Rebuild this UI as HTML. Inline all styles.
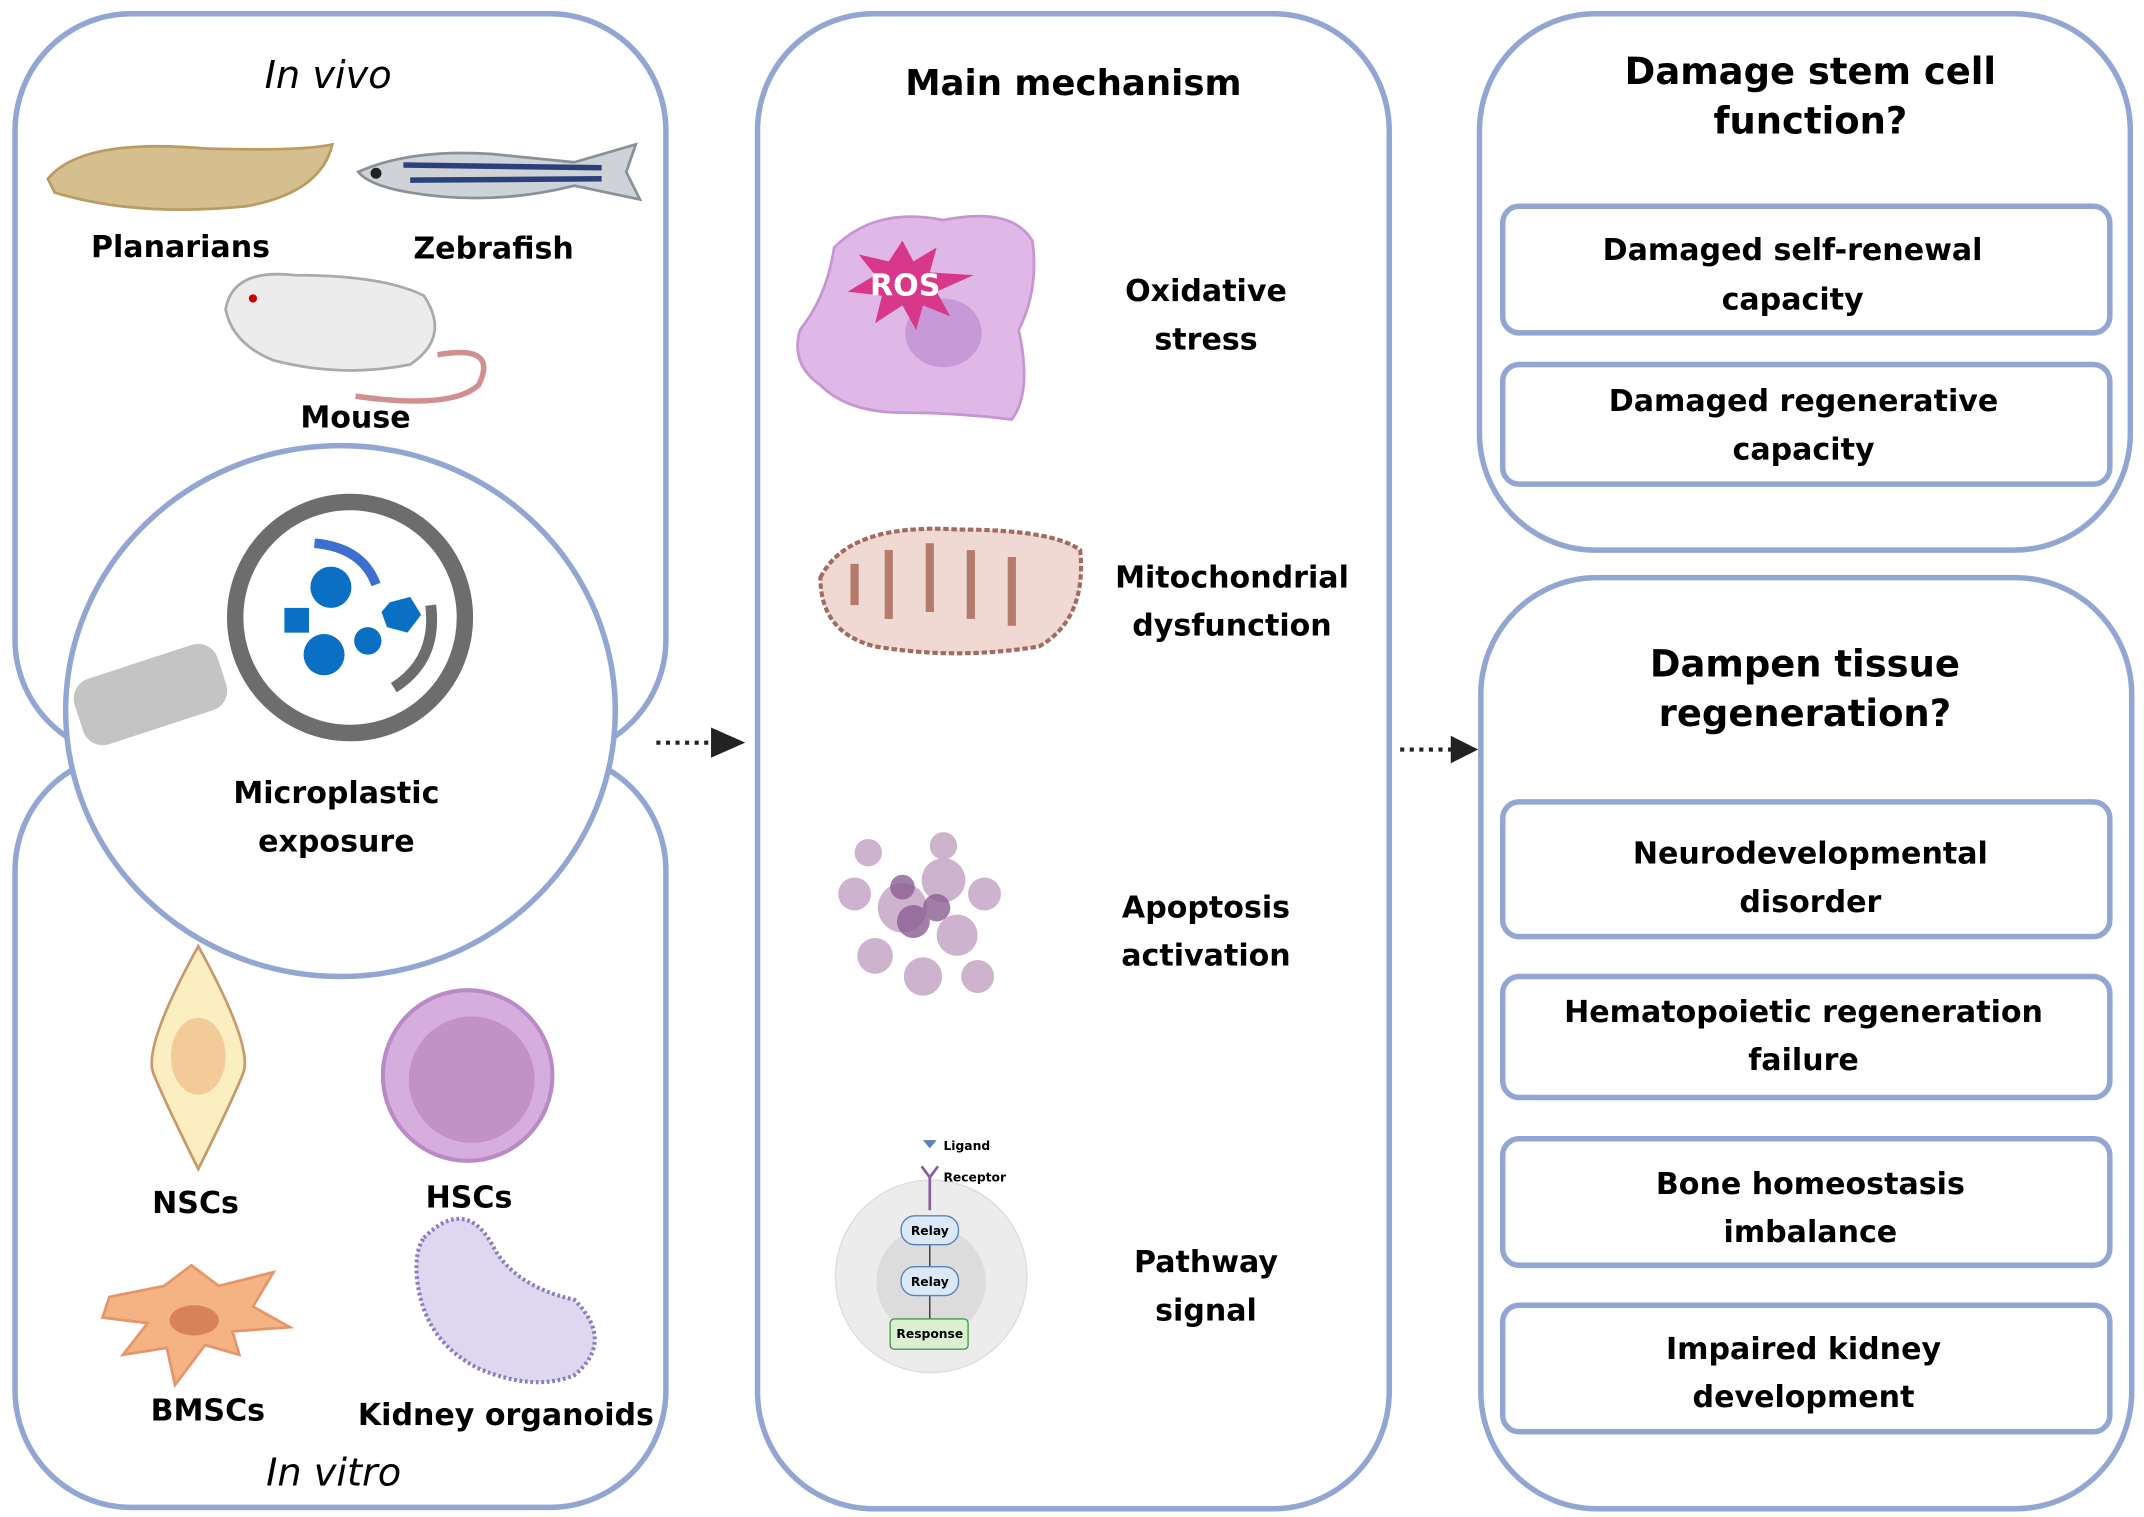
<!DOCTYPE html>
<html><head><meta charset="utf-8"><style>
html,body{margin:0;padding:0;background:#fff}
svg{display:block}
text{font-family:"DejaVu Sans","Liberation Sans",sans-serif;font-weight:bold;fill:#000}
.t{font-size:22px}
.h{font-size:26px}
</style></head><body>
<svg width="2144" height="1517" viewBox="0 0 1568 1103" preserveAspectRatio="none" xmlns="http://www.w3.org/2000/svg">
<g fill="none" stroke="#91a6d2" stroke-width="4">
<rect x="11" y="10" width="476" height="540" rx="85"/>
<rect x="11" y="548" width="476" height="548" rx="85"/>
<rect x="554" y="10" width="462" height="1087" rx="85"/>
<rect x="1082" y="10" width="476" height="390" rx="85"/>
<rect x="1083" y="420" width="476" height="677" rx="85"/>
</g>
<ellipse cx="249" cy="517" rx="201" ry="193" fill="#fff" stroke="#91a6d2" stroke-width="4"/>
<g fill="#fff" stroke="#91a6d2" stroke-width="4">
<rect x="1099" y="150" width="444" height="92" rx="12"/>
<rect x="1099" y="265" width="444" height="87" rx="12"/>
<rect x="1099" y="583" width="444" height="98" rx="12"/>
<rect x="1099" y="710" width="444" height="88" rx="12"/>
<rect x="1099" y="828" width="444" height="92" rx="12"/>
<rect x="1099" y="949" width="444" height="92" rx="12"/>
</g>
<line x1="480" y1="540" x2="520" y2="540" stroke="#222" stroke-width="3" stroke-dasharray="3,4"/>
<polygon points="520,529 545,540 520,551" fill="#222"/>
<line x1="1024" y1="545" x2="1062" y2="545" stroke="#222" stroke-width="3" stroke-dasharray="3,4"/>
<polygon points="1061,535 1081,545 1061,555" fill="#222"/>
<path d="M35 130 Q60 100 150 108 Q220 110 243 105 Q235 140 180 150 Q100 158 40 140 Z" fill="#d5bf8e" stroke="#b89c63" stroke-width="2"/>
<path d="M262 125 Q300 108 360 112 L420 118 L465 105 L458 125 L468 145 L420 135 Q360 150 300 140 Q270 135 262 125Z" fill="#cfd3d8" stroke="#8a9099" stroke-width="2"/>
<g stroke="#2b3f7a" stroke-width="4"><line x1="295" y1="120" x2="440" y2="122"/><line x1="300" y1="131" x2="440" y2="130"/></g>
<circle cx="275" cy="126" r="4" fill="#222"/>
<path d="M165 225 Q170 195 215 200 Q280 200 310 215 Q330 245 300 265 Q250 275 200 262 Q170 250 165 225Z" fill="#ececec" stroke="#aaa" stroke-width="2"/>
<path d="M320 258 Q365 250 350 280 Q330 298 260 288" fill="none" stroke="#d28f8f" stroke-width="4"/>
<circle cx="185" cy="217" r="3" fill="#c00"/>
<rect x="55" y="480" width="110" height="50" rx="15" fill="#c4c4c4" transform="rotate(-18 110 505)"/>
<circle cx="256" cy="449" r="84" fill="#fff" stroke="#6d6d6d" stroke-width="12"/>
<path d="M230 395 Q265 398 275 425" fill="none" stroke="#3d6fd0" stroke-width="7"/>
<path d="M315 440 Q320 480 288 500" fill="none" stroke="#6d6d6d" stroke-width="8"/>
<g fill="#0b6fc4"><circle cx="242" cy="427" r="15"/><circle cx="237" cy="476" r="15"/><circle cx="269" cy="466" r="10"/><rect x="208" y="442" width="18" height="18"/><polygon points="285,438 300,434 308,447 298,460 283,456 279,445"/></g>
<path d="M145 688 Q185 760 178 780 Q170 800 145 850 Q120 800 112 780 Q105 760 145 688Z" fill="#fbeec0" stroke="#c89a6b" stroke-width="2"/>
<ellipse cx="145" cy="768" rx="20" ry="28" fill="#f2cb99"/>
<circle cx="342" cy="782" r="62" fill="#d6aedd" stroke="#b98ac5" stroke-width="3"/>
<circle cx="345" cy="785" r="46" fill="#c292c4"/>
<path d="M80 943 L120 935 L140 920 L160 935 L200 925 L185 950 L212 965 L170 968 L175 985 L150 978 L128 1007 L122 980 L90 985 L108 962 L75 958 Z" fill="#f5b383" stroke="#e5956a" stroke-width="2"/>
<ellipse cx="142" cy="960" rx="18" ry="11" fill="#d8825a"/>
<path d="M310 900 Q340 870 360 905 Q375 935 420 945 Q450 975 420 1000 Q390 1012 350 995 Q310 975 305 930 Q303 910 310 900Z" fill="#ddd8f0" stroke="#8e7bbf" stroke-width="3" stroke-dasharray="2,2"/>
<path d="M610 180 Q640 150 690 160 Q740 150 755 175 Q760 210 745 240 Q755 285 740 305 Q700 300 660 300 Q620 300 600 280 Q578 265 585 240 Q605 215 610 180Z" fill="#e0b8e8" stroke="#c695d3" stroke-width="2"/>
<ellipse cx="690" cy="242" rx="28" ry="25" fill="#c79ad7"/>
<polygon points="660,175 668,190 685,180 680,198 712,200 685,212 695,230 675,222 670,240 660,222 640,235 645,215 620,212 640,200 628,185 650,190" fill="#d8388a"/>
<text x="662" y="215" font-size="22" text-anchor="middle" style="fill:#fff">ROS</text>
<path d="M600 420 Q620 380 700 385 Q770 385 790 400 Q795 450 760 470 Q700 480 640 470 Q600 460 600 420Z" fill="#efd9d2" stroke="#a36a60" stroke-width="3" stroke-dasharray="4,2"/>
<g fill="none" stroke="#b47a6a" stroke-width="6"><path d="M625 440 V410"/><path d="M650 450 V400"/><path d="M680 445 V395"/><path d="M710 450 V400"/><path d="M740 455 V405"/></g>
<g fill="#b893b9" opacity="0.7"><circle cx="660" cy="660" r="18"/><circle cx="690" cy="640" r="16"/><circle cx="700" cy="680" r="15"/><circle cx="640" cy="695" r="13"/><circle cx="675" cy="710" r="14"/><circle cx="720" cy="650" r="12"/><circle cx="625" cy="650" r="12"/><circle cx="715" cy="710" r="12"/><circle cx="690" cy="615" r="10"/><circle cx="635" cy="620" r="10"/></g>
<g fill="#8b5f92" opacity="0.8"><circle cx="668" cy="670" r="12"/><circle cx="685" cy="660" r="10"/><circle cx="660" cy="645" r="9"/></g>
<circle cx="681" cy="928" r="70" fill="#ececec" stroke="#ddd"/>
<circle cx="681" cy="932" r="40" fill="#dcdcdc"/>
<polygon points="675,829 685,829 680,835" fill="#5b7fb8"/>
<path d="M674 848 L680 856 L686 848 M680 856 V880" stroke="#8a5fa0" stroke-width="2" fill="none"/>
<line x1="680" y1="905" x2="680" y2="960" stroke="#333"/>
<rect x="659" y="884" width="42" height="21" rx="10" fill="#dbe8f7" stroke="#5b82b8"/>
<rect x="659" y="921" width="42" height="21" rx="10" fill="#dbe8f7" stroke="#5b82b8"/>
<rect x="651" y="959" width="57" height="22" rx="3" fill="#daf0d0" stroke="#4a9a46"/>
<g font-size="9" style="font-weight:normal"><text x="690" y="836">Ligand</text><text x="690" y="859">Receptor</text><text x="680" y="898" text-anchor="middle">Relay</text><text x="680" y="935" text-anchor="middle">Relay</text><text x="680" y="973" text-anchor="middle">Response</text></g>
<g class="t" text-anchor="middle">
<text x="240" y="64" font-size="28" style="font-style:italic;font-weight:normal">In vivo</text>
<text x="132" y="187">Planarians</text>
<text x="361" y="188">Zebrafish</text>
<text x="260" y="311">Mouse</text>
<text x="246" y="584">Microplastic</text>
<text x="246" y="619">exposure</text>
<text x="143" y="882">NSCs</text>
<text x="343" y="878">HSCs</text>
<text x="152" y="1033">BMSCs</text>
<text x="370" y="1036">Kidney organoids</text>
<text x="244" y="1080" font-size="28" style="font-style:italic;font-weight:normal">In vitro</text>
<text x="785" y="69" class="h" font-size="27">Main mechanism</text>
<text x="882" y="219">Oxidative</text>
<text x="882" y="254">stress</text>
<text x="901" y="427">Mitochondrial</text>
<text x="901" y="462">dysfunction</text>
<text x="882" y="667">Apoptosis</text>
<text x="882" y="702">activation</text>
<text x="882" y="925">Pathway</text>
<text x="882" y="960">signal</text>
<text x="1324" y="61" font-size="27">Damage stem cell</text>
<text x="1324" y="97" font-size="27">function?</text>
<text x="1311" y="189">Damaged self-renewal</text>
<text x="1311" y="225">capacity</text>
<text x="1319" y="299">Damaged regenerative</text>
<text x="1319" y="334">capacity</text>
<text x="1320" y="492" font-size="27">Dampen tissue</text>
<text x="1320" y="528" font-size="27">regeneration?</text>
<text x="1324" y="628">Neurodevelopmental</text>
<text x="1324" y="663">disorder</text>
<text x="1319" y="743">Hematopoietic regeneration</text>
<text x="1319" y="778">failure</text>
<text x="1324" y="868">Bone homeostasis</text>
<text x="1324" y="903">imbalance</text>
<text x="1319" y="988">Impaired kidney</text>
<text x="1319" y="1023">development</text>
</g>
</svg>
</body></html>
